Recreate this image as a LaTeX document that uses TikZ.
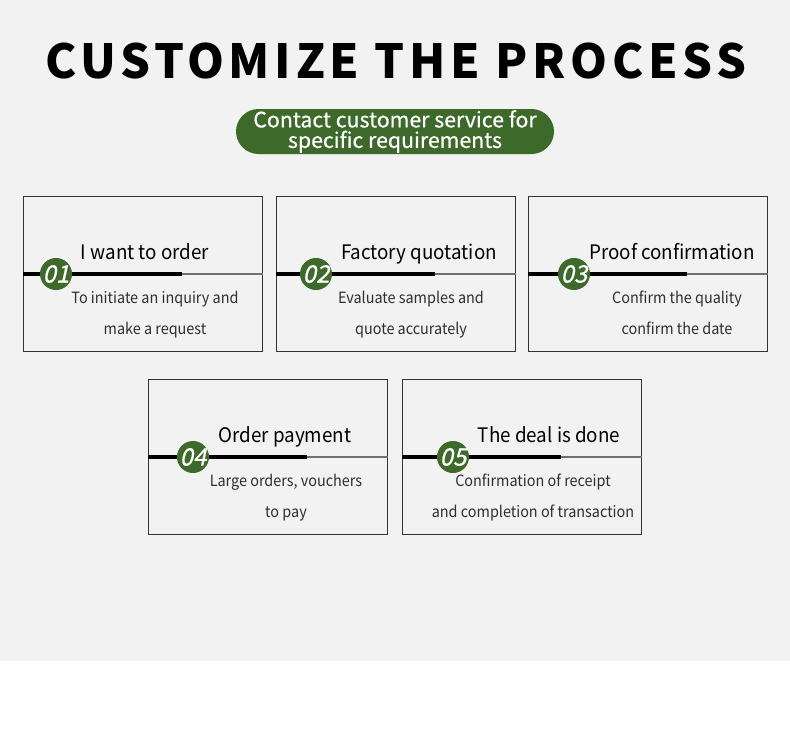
\documentclass[tikz,border=0pt]{standalone}
\usepackage{fontspec}
\setmainfont{Noto Sans CJK SC}
\newfontfamily\numf[FakeSlant=0.22,FakeBold=0.6]{Noto Sans CJK SC}
\newfontfamily\medf[FakeBold=0.5]{Noto Sans CJK SC}
\newfontfamily\headf[LetterSpace=10]{Noto Sans CJK SC}
\newfontfamily\titf[FakeStretch=0.94]{Noto Sans CJK SC}
\newfontfamily\subf[FakeStretch=0.93]{Noto Sans CJK SC}
\usetikzlibrary{calc}
\definecolor{bggray}{HTML}{F2F2F2}
\definecolor{leaf}{HTML}{3D6A2B}
\definecolor{boxline}{HTML}{333333}
\definecolor{thinline}{HTML}{707070}
\tikzset{
  card/.style={draw=boxline,line width=1.1pt,minimum width=239pt,minimum height=155pt,inner sep=0pt,anchor=north west},
  cardtitle/.style={anchor=base,inner sep=0pt,font=\titf\fontsize{20}{24}\selectfont,text=black},
  cardsub/.style={anchor=base,inner sep=0pt,font=\subf\fontsize{15.5}{18}\selectfont,text=black!82},
  numdot/.style={circle,fill=leaf,minimum size=31pt,inner sep=0pt,text=white,font=\numf\fontsize{24}{24}\selectfont},
  thickrule/.style={line width=3.2pt,black},
  thinrule/.style={line width=1.3pt,thinline},
}
% #1 name, #2 left x, #3 top y, #4 circle offset, #5 title offset, #6 title, #7 sub offset, #8 line1, #9 line2
\newcommand\mycard[9]{%
  \node[card] (#1) at (#2,#3) {};
  \coordinate (#1l) at ($(#1.north west)+(0,78)$);
  \coordinate (#1m) at ($(#1l)+(159,0)$);
  \coordinate (#1r) at ($(#1.north east)+(0,78)$);
  \draw[thinrule] (#1m) -- (#1r);
  \draw[thickrule] (#1l) -- (#1m);
  \node[numdot] (#1n) at ($(#1l)+(#4,0)$) {0\numberof{#1}};
  \node[cardtitle] (#1t) at ($(#1.north west)+(#5,63)$) {#6};
  \node[cardsub] (#1a) at ($(#1.north west)+(#7,107.5)$) {#8};
  \node[cardsub] (#1b) at ($(#1.north west)+(#7,138)$) {#9};
}
\def\numberof#1{\csname num#1\endcsname}
\def\numa{1}\def\numb{2}\def\numc{3}\def\numd{4}\def\nume{5}
\begin{document}
\begin{tikzpicture}[x=1pt,y=-1pt]
\useasboundingbox (0,0) rectangle (790,734);
\fill[bggray] (0,0) rectangle (790,661);
\fill[white] (0,661) rectangle (790,734);
\node[anchor=base,inner sep=0pt,font=\headf\bfseries\fontsize{47}{47}\selectfont] (head) at (396,78) {CUSTOMIZE THE PROCESS};
\node[fill=leaf,rounded corners=22.5pt,minimum width=318pt,minimum height=45pt,inner sep=0pt] (pill) at (395,131.5) {};
\node[text=white,align=center,inner sep=0pt,font=\medf\fontsize{21.3}{20.5}\selectfont] (pillt) at (395,131.5) {Contact customer service for\\specific requirements};
\mycard{a}{23}{196}{33}{122}{I want to order}{132}{To initiate an inquiry and}{make a request}
\mycard{b}{276}{196}{40}{143}{Factory quotation}{135}{Evaluate samples and}{quote accurately}
\mycard{c}{528}{196}{46}{144}{Proof confirmation}{149}{Confirm the quality}{confirm the date}
\mycard{d}{148}{379}{45}{137}{Order payment}{138}{Large orders, vouchers}{to pay}
\mycard{e}{402}{379}{51}{147}{The deal is done}{131}{Confirmation of receipt}{and completion of transaction}
\end{tikzpicture}
\end{document}
